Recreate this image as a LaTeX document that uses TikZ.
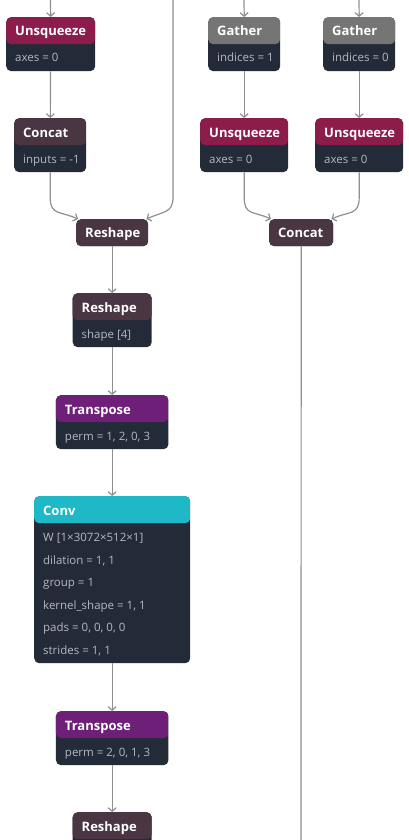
\documentclass[tikz,border=0pt]{standalone}
\usepackage{fontspec}
\setmainfont{Open Sans}
\usepackage{tikz}
\usetikzlibrary{arrows.meta,calc,positioning}
\definecolor{unsqred}{rgb}{0.55,0.11,0.29}
\definecolor{concatmauve}{rgb}{0.29,0.21,0.26}
\definecolor{gathergray}{rgb}{0.46,0.46,0.46}
\definecolor{transpurple}{rgb}{0.43,0.12,0.47}
\definecolor{convcyan}{rgb}{0.12,0.72,0.78}
\definecolor{bodydark}{rgb}{0.14,0.17,0.22}
\definecolor{attrgray}{rgb}{0.71,0.72,0.75}
\definecolor{edgegray}{rgb}{0.56,0.56,0.56}
\tikzset{
  op/.style={
    rectangle,
    rounded corners=5pt,
    fill=bodydark,
    inner sep=0pt,
    anchor=north west,
    path picture={\fill[#1] (path picture bounding box.north west)
      rectangle ([yshift=-27pt]path picture bounding box.north east);}
  },
  head/.style={
    anchor=base west,
    inner sep=0pt,
    text=white,
    font=\bfseries\fontsize{13}{15}\selectfont
  },
  attr/.style={
    anchor=base west,
    inner sep=0pt,
    align=left,
    text=attrgray,
    font=\fontsize{11.5}{22.5}\selectfont
  },
  arrow/.style={
    -{Straight Barb[length=3.5pt,width=8pt]},
    line width=1.2pt,
    edgegray
  }
}

\begin{document}
\begin{tikzpicture}[x=1pt,y=-1pt]
\useasboundingbox (0,0) rectangle (408,840);
\clip (0,0) rectangle (408,840);
% left branch
\node[op=unsqred,minimum width=89pt,minimum height=54pt] (u1) at (6,17) {};
\node[head] (u1h) at ([shift={(9pt,-19pt)}]u1.north west) {Unsqueeze};
\node[attr] (u1a) at ([shift={(9pt,-45pt)}]u1.north west) {axes = 0};
\node[op=concatmauve,minimum width=72pt,minimum height=54pt] (c1) at (14,118) {};
\node[head] (c1h) at ([shift={(9pt,-19pt)}]c1.north west) {Concat};
\node[attr] (c1a) at ([shift={(9pt,-45pt)}]c1.north west) {inputs = -1};
% gather branches
\node[op=gathergray,minimum width=72pt,minimum height=54pt] (g1) at (208,17) {};
\node[head] (g1h) at ([shift={(9pt,-19pt)}]g1.north west) {Gather};
\node[attr] (g1a) at ([shift={(9pt,-45pt)}]g1.north west) {indices = 1};
\node[op=gathergray,minimum width=72pt,minimum height=54pt] (g2) at (323,17) {};
\node[head] (g2h) at ([shift={(9pt,-19pt)}]g2.north west) {Gather};
\node[attr] (g2a) at ([shift={(9pt,-45pt)}]g2.north west) {indices = 0};
\node[op=unsqred,minimum width=88pt,minimum height=54pt] (u2) at (200,118) {};
\node[head] (u2h) at ([shift={(9pt,-19pt)}]u2.north west) {Unsqueeze};
\node[attr] (u2a) at ([shift={(9pt,-45pt)}]u2.north west) {axes = 0};
\node[op=unsqred,minimum width=88pt,minimum height=54pt] (u3) at (315,118) {};
\node[head] (u3h) at ([shift={(9pt,-19pt)}]u3.north west) {Unsqueeze};
\node[attr] (u3a) at ([shift={(9pt,-45pt)}]u3.north west) {axes = 0};
\node[op=concatmauve,minimum width=64pt,minimum height=27pt] (c2) at (269,219) {};
\node[head] (c2h) at ([shift={(9pt,-18.5pt)}]c2.north west) {Concat};
% main chain
\node[op=concatmauve,minimum width=72pt,minimum height=27pt] (rs1) at (76,219) {};
\node[head] (rs1h) at ([shift={(9pt,-18.5pt)}]rs1.north west) {Reshape};
\node[op=concatmauve,minimum width=79pt,minimum height=54pt] (rs2) at (72.5,293) {};
\node[head] (rs2h) at ([shift={(9pt,-19pt)}]rs2.north west) {Reshape};
\node[attr] (rs2a) at ([shift={(9pt,-45pt)}]rs2.north west) {shape [4]};
\node[op=transpurple,minimum width=112.5pt,minimum height=54pt] (tr1) at (55.75,395) {};
\node[head] (tr1h) at ([shift={(9pt,-19pt)}]tr1.north west) {Transpose};
\node[attr] (tr1a) at ([shift={(9pt,-45pt)}]tr1.north west) {perm = 1, 2, 0, 3};
\node[op=convcyan,minimum width=156pt,minimum height=167pt] (cv) at (34,496) {};
\node[head] (cvh) at ([shift={(9pt,-19pt)}]cv.north west) {Conv};
% base of a multi-line node sits on its last line
\node[attr] (cva) at ([shift={(9pt,-158.2pt)}]cv.north west)
  {W [1×3072×512×1]\\dilation = 1, 1\\group = 1\\kernel\_shape = 1, 1\\pads = 0, 0, 0, 0\\strides = 1, 1};
\node[op=transpurple,minimum width=112.5pt,minimum height=54pt] (tr2) at (55.75,711) {};
\node[head] (tr2h) at ([shift={(9pt,-19pt)}]tr2.north west) {Transpose};
\node[attr] (tr2a) at ([shift={(9pt,-45pt)}]tr2.north west) {perm = 2, 0, 1, 3};
\node[op=concatmauve,minimum width=79pt,minimum height=54pt] (rs3) at (72.5,812) {};
\node[head] (rs3h) at ([shift={(9pt,-19pt)}]rs3.north west) {Reshape};
% free ends
\coordinate (t1) at (50.5,0);
\coordinate (t2) at (173,0);
\coordinate (t3) at (244,0);
\coordinate (t4) at (359,0);
\coordinate (b1) at (301,870);
% edges
\draw[arrow] (t1) -- (u1.north);
\draw[arrow] (u1) -- (c1);
\draw[arrow] (c1.south) -- ++(0,25) .. controls +(0,18) and +(-18,-8) .. ([xshift=2pt]rs1.north west);
\draw[arrow] (t2) -- ++(0,197) .. controls +(0,16) and +(18,-8) .. ([xshift=-2pt]rs1.north east);
\draw[arrow] (t3) -- (g1.north);
\draw[arrow] (t4) -- (g2.north);
\draw[arrow] (g1) -- (u2);
\draw[arrow] (g2) -- (u3);
\draw[arrow] (u2.south) -- ++(0,25) .. controls +(0,18) and +(-18,-8) .. ([xshift=2pt]c2.north west);
\draw[arrow] (u3.south) -- ++(0,25) .. controls +(0,18) and +(18,-8) .. ([xshift=-2pt]c2.north east);
\draw[arrow] (c2) -- (b1);
\draw[arrow] (rs1) -- (rs2);
\draw[arrow] (rs2) -- (tr1);
\draw[arrow] (tr1) -- (cv);
\draw[arrow] (cv) -- (tr2);
\draw[arrow] (tr2) -- (rs3);
\end{tikzpicture}
\end{document}
